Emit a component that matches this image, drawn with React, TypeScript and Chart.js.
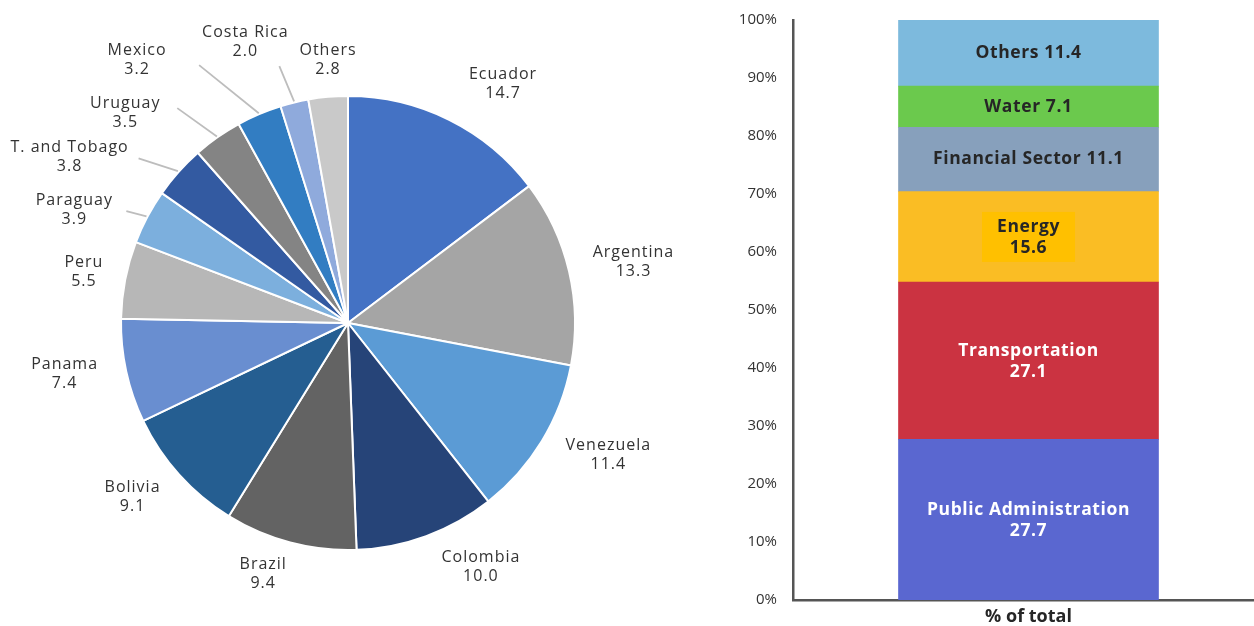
import React, { useEffect, useRef } from "react";
import { Chart, registerables } from "chart.js";

Chart.register(...registerables);

// ---- Pie data ----
const countries = [
  "Ecuador", "Argentina", "Venezuela", "Colombia", "Brazil", "Bolivia", "Panama",
  "Peru", "Paraguay", "T. and Tobago", "Uruguay", "Mexico", "Costa Rica", "Others",
];
const countryShares = [14.7, 13.3, 11.4, 10.0, 9.4, 9.1, 7.4, 5.5, 3.9, 3.8, 3.5, 3.2, 2.0, 2.8];
const countryColors = [
  "#4472C4", "#A5A5A5", "#5B9BD5", "#264478", "#636363", "#255E91", "#698ED0",
  "#B7B7B7", "#7CAFDD", "#335AA1", "#848484", "#327DC2", "#8FAADC", "#C9C9C9",
];

// ---- Stacked bar data ----
const sectors = ["Public Administration", "Transportation", "Energy", "Financial Sector", "Water", "Others"];
const sectorShares = [27.7, 27.1, 15.6, 11.1, 7.1, 11.4];
const sectorColors = ["#5A67D0", "#CB3341", "#FABD24", "#87A0BC", "#6BC94D", "#7DBADD"];
const sectorTwoLine = [true, true, true, false, false, false];
const sectorTextColors = ["#FFFFFF", "#FFFFFF", "#262626", "#262626", "#262626", "#262626"];
const barCategory = ["% of total"];
const yTickLabels = ["0%", "10%", "20%", "30%", "40%", "50%", "60%", "70%", "80%", "90%", "100%"];

// ---- layout (label placement: angle shift in degrees, distance from centre in px) ----
const pieLabelLayout: [number, number][] = [
  [6.5, 285], [1, 292], [-4.4, 292], [-8.4, 278], [3.9, 265], [3, 277], [2, 288],
  [0, 269], [-5.5, 296], [-11, 324], [-11.6, 306], [-15.7, 337], [-6.4, 299], [0.7, 264],
];
const leaderEnds: Record<number, [number, number]> = {
  8: [52, 1],
  9: [69, 1],
  10: [52, -5],
  11: [62, 5],
  12: [34, 24],
};

const PIE_FONT = "'Open Sans', 'Noto Sans', sans-serif";
const BAR_FONT = "'Open Sans', 'Noto Sans', sans-serif";

const pieLabelPlugin = {
  id: "pieLabels",
  afterDatasetsDraw(chart: any) {
    const ctx = chart.ctx;
    const meta = chart.getDatasetMeta(0);
    ctx.save();
    meta.data.forEach((arc: any, i: number) => {
      const p = arc.getProps(["x", "y", "startAngle", "endAngle", "outerRadius"], true);
      const mid = (p.startAngle + p.endAngle) / 2;
      const [shift, dist] = pieLabelLayout[i];
      const a = mid + (shift * Math.PI) / 180;
      const lx = p.x + Math.cos(a) * dist;
      const ly = p.y + Math.sin(a) * dist;
      if (leaderEnds[i]) {
        const sx = p.x + Math.cos(mid) * (p.outerRadius + 1);
        const sy = p.y + Math.sin(mid) * (p.outerRadius + 1);
        ctx.strokeStyle = "#BDBDBD";
        ctx.lineWidth = 1.8;
        ctx.beginPath();
        ctx.moveTo(sx, sy);
        ctx.lineTo(lx + leaderEnds[i][0], ly + leaderEnds[i][1]);
        ctx.stroke();
      }
      ctx.fillStyle = "#333333";
      ctx.font = `400 16px ${PIE_FONT}`;
      (ctx as any).letterSpacing = "1px";
      ctx.textAlign = "center";
      ctx.textBaseline = "middle";
      ctx.fillText(countries[i], lx, ly - 9.5);
      ctx.fillText(countryShares[i].toFixed(1), lx, ly + 9.5);
      (ctx as any).letterSpacing = "0px";
    });
    ctx.restore();
  },
};

const barLabelPlugin = {
  id: "barLabels",
  afterDatasetsDraw(chart: any) {
    const ctx = chart.ctx;
    ctx.save();
    ctx.textAlign = "center";
    ctx.textBaseline = "middle";
    ctx.font = `700 17.5px ${BAR_FONT}`;
    (ctx as any).letterSpacing = "0.6px";
    chart.data.datasets.forEach((ds: any, i: number) => {
      const bar = chart.getDatasetMeta(i).data[0];
      const p = bar.getProps(["x", "y", "base"], true);
      const cy = (p.y + p.base) / 2;
      const value = sectorShares[i].toFixed(1);
      if (sectors[i] === "Energy") {
        const w = Math.max(ctx.measureText(sectors[i]).width, ctx.measureText(value).width) + 30;
        ctx.fillStyle = "#FFC000";
        ctx.fillRect(p.x - w / 2, cy - 25, w, 50);
      }
      ctx.fillStyle = sectorTextColors[i];
      if (sectorTwoLine[i]) {
        ctx.fillText(sectors[i], p.x, cy - 10);
        ctx.fillText(value, p.x, cy + 11);
      } else {
        ctx.fillText(`${sectors[i]} ${value}`, p.x, cy);
      }
    });
    (ctx as any).letterSpacing = "0px";
    ctx.restore();
  },
};

export default function App() {
  const pieRef = useRef<HTMLCanvasElement | null>(null);
  const barRef = useRef<HTMLCanvasElement | null>(null);

  useEffect(() => {
    document.body.style.margin = "0";
    const pie = new Chart(pieRef.current as HTMLCanvasElement, {
      type: "pie",
      data: {
        labels: countries,
        datasets: [
          {
            data: countryShares,
            backgroundColor: countryColors,
            borderColor: "#FFFFFF",
            borderWidth: 2,
          },
        ],
      },
      options: {
        animation: false,
        responsive: false,
        layout: { padding: { top: 95, bottom: 75, left: 120, right: 124 } },
        plugins: { legend: { display: false }, tooltip: { enabled: false } },
      },
      plugins: [pieLabelPlugin],
    } as any);

    const bar = new Chart(barRef.current as HTMLCanvasElement, {
      type: "bar",
      data: {
        labels: barCategory,
        datasets: sectors.map((s, i) => ({
          label: s,
          data: [sectorShares[i]],
          backgroundColor: sectorColors[i],
          borderWidth: 0,
          barThickness: 260,
        })),
      },
      options: {
        animation: false,
        responsive: false,
        layout: { padding: { top: 20, right: 0, left: 0, bottom: 0 } },
        plugins: { legend: { display: false }, tooltip: { enabled: false } },
        scales: {
          x: {
            stacked: true,
            grid: { display: false, drawTicks: false },
            border: { display: true, color: "#555555", width: 2.5 },
            ticks: {
              color: "#262626",
              padding: 8,
              font: { family: BAR_FONT, size: 18, weight: "bold", lineHeight: 1 },
            },
            afterFit: (scale: any) => {
              scale.height = 26;
              scale.paddingLeft = 0;
              scale.paddingRight = 0;
            },
          },
          y: {
            stacked: true,
            min: 0,
            max: 100,
            grid: { display: false, drawTicks: false },
            border: { display: true, color: "#555555", width: 2.5 },
            ticks: {
              stepSize: 10,
              padding: 16,
              color: "#333333",
              font: { family: BAR_FONT, size: 15 },
              callback: (v: any) => yTickLabels[Math.round(Number(v) / 10)],
            },
            afterFit: (scale: any) => {
              scale.width = 93;
              scale.paddingTop = 0;
              scale.paddingBottom = 0;
            },
          },
        },
      },
      plugins: [barLabelPlugin],
    } as any);

    return () => {
      pie.destroy();
      bar.destroy();
    };
  }, []);

  return (
    <div style={{ position: "absolute", left: 0, top: 0, width: 1254, height: 626, background: "#FFFFFF", overflow: "hidden" }}>
      <canvas ref={pieRef} width={700} height={626} style={{ position: "absolute", left: 0, top: 0 }} />
      <canvas ref={barRef} width={564} height={626} style={{ position: "absolute", left: 700, top: 0 }} />
    </div>
  );
}
